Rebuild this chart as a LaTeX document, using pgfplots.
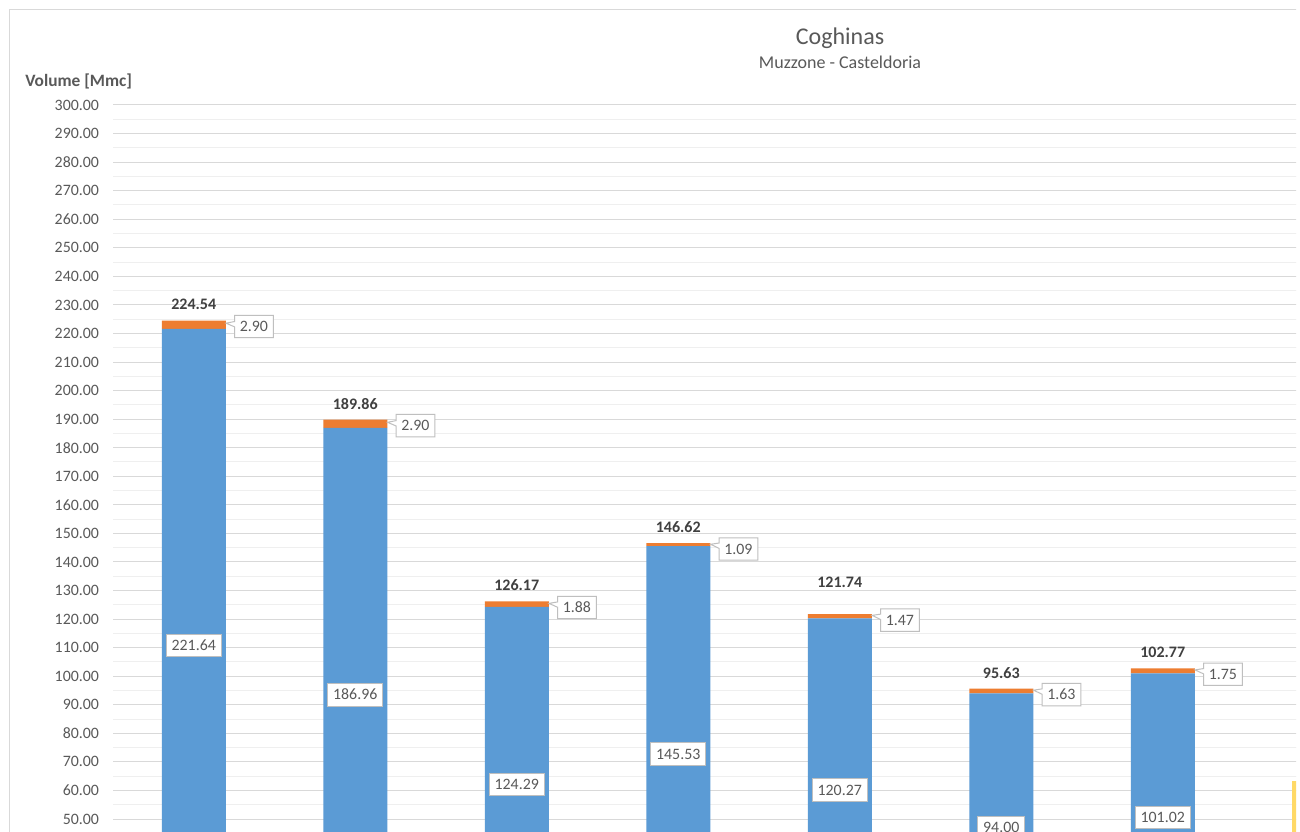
\documentclass[border=0pt]{standalone}
\usepackage{fontspec}
\setmainfont{Carlito}
\usepackage{pgfplots}
\pgfplotsset{compat=1.18}
\usetikzlibrary{shapes.callouts}

\definecolor{barblue}{HTML}{5B9BD5}
\definecolor{barorange}{HTML}{ED7D31}
\definecolor{baryellow}{HTML}{FFD966}
\definecolor{txtgray}{HTML}{595959}
\definecolor{txtdark}{HTML}{404040}
\definecolor{gridmajor}{HTML}{D9D9D9}
\definecolor{gridminor}{HTML}{EFEFEF}
\definecolor{boxline}{HTML}{BFBFBF}

\tikzset{
  vlabel/.style={draw=boxline, fill=white, text=txtgray, line width=0.75pt,
    font=\fontsize{11.9}{13}\selectfont, inner xsep=4pt, inner ysep=4.6pt,
    text height=7.6pt, text depth=0pt},
  olabel/.style={vlabel, rectangle callout, callout pointer width=4pt,
    anchor=west, xshift=6pt, yshift=-4.5pt},
  tlabel/.style={font=\bfseries\fontsize{12}{13}\selectfont, text=txtdark},
}
% common geometry of the bar axis and of the label overlay
\pgfplotsset{
  volframe/.style={
    at={(84.75pt,-97.35pt)}, anchor=south west,
    x=121.125pt, y=2.142pt,
    xmin=-0.5, xmax=7.5, ymin=0, ymax=300,
    clip=false,
  },
}

\begin{document}
\begin{tikzpicture}
\fill[white] (0,0) rectangle (975pt,624pt);
\begin{scope}
\clip (0,0) rectangle (972pt,624pt);

% chart area border
\draw[gridmajor, line width=0.75pt] (7.1pt,-100pt) -- (7.1pt,616.9pt) -- (1200pt,616.9pt);

% titles
\node[text=txtgray, font=\fontsize{18}{20}\selectfont] at (630pt,595.5pt) {Coghinas};
\node[text=txtgray, font=\fontsize{13.5}{15}\selectfont] at (630pt,577.5pt) {Muzzone - Casteldoria};
\node[anchor=west, inner sep=0pt, text=txtgray, font=\bfseries\fontsize{13}{15}\selectfont] at (18.75pt,563.25pt) {Volume [Mmc]};

\begin{axis}[
  volframe,
  ybar stacked, bar width=48pt,
  axis line style={draw=none},
  xtick=\empty,
  ytick={50,60,...,300},
  minor y tick num=1,
  major tick length=0pt, minor tick length=0pt,
  ymajorgrids, yminorgrids,
  major grid style={gridmajor, line width=0.75pt},
  minor grid style={gridminor, line width=0.75pt},
  yticklabel style={font=\fontsize{11.9}{13}\selectfont, text=txtgray, xshift=-7pt},
  /pgf/number format/.cd, fixed, fixed zerofill, precision=2, assume math mode=true,
]
% storage volume
\addplot[fill=barblue, draw=none] coordinates {
  (0,221.64) (1,186.96) (2,124.29) (3,145.53) (4,120.27) (5,94.00) (6,101.02) (7,0)};
% additional volume
\addplot[fill=barorange, draw=none] coordinates {
  (0,2.90) (1,2.90) (2,1.88) (3,1.09) (4,1.47) (5,1.63) (6,1.75) (7,0)};
% current value
\addplot[fill=baryellow, draw=none] coordinates {
  (0,0) (1,0) (2,0) (3,0) (4,0) (5,0) (6,0) (7,63.3)};
\end{axis}

% data labels, drawn over the bars
\begin{axis}[volframe, hide axis]
% values inside the bars
\node[vlabel] at (axis cs:0,110.82) {221.64};
\node[vlabel] at (axis cs:1,93.48) {186.96};
\node[vlabel] at (axis cs:2,62.145) {124.29};
\node[vlabel] at (axis cs:3,72.765) {145.53};
\node[vlabel] at (axis cs:4,60.135) {120.27};
\node[vlabel] at (axis cs:5,47.00) {94.00};
\node[vlabel] at (axis cs:6,50.51) {101.02};

% additional volume callouts
\node[olabel, callout absolute pointer={(axis cs:0.2,223.6)}] at (axis cs:0.2,224.54) {2.90};
\node[olabel, callout absolute pointer={(axis cs:1.2,188.9)}] at (axis cs:1.2,189.86) {2.90};
\node[olabel, callout absolute pointer={(axis cs:2.2,125.5)}] at (axis cs:2.2,126.17) {1.88};
\node[olabel, callout absolute pointer={(axis cs:3.2,146.2)}] at (axis cs:3.2,146.62) {1.09};
\node[olabel, callout absolute pointer={(axis cs:4.2,121.3)}] at (axis cs:4.2,121.74) {1.47};
\node[olabel, callout absolute pointer={(axis cs:5.2,95.1)}] at (axis cs:5.2,95.63) {1.63};
\node[olabel, callout absolute pointer={(axis cs:6.2,102.2)}] at (axis cs:6.2,102.77) {1.75};

% totals
\node[tlabel, yshift=12pt] at (axis cs:0,224.54) {224.54};
\node[tlabel, yshift=12pt] at (axis cs:1,189.86) {189.86};
\node[tlabel, yshift=12pt] at (axis cs:2,126.17) {126.17};
\node[tlabel, yshift=12pt] at (axis cs:3,146.62) {146.62};
\node[tlabel, yshift=24pt] at (axis cs:4,121.74) {121.74};
\node[tlabel, yshift=12pt] at (axis cs:5,95.63) {95.63};
\node[tlabel, yshift=12pt] at (axis cs:6,102.77) {102.77};
\end{axis}
\end{scope}

\pgfresetboundingbox
\path[use as bounding box] (0,0) rectangle (975pt,624pt);
\end{tikzpicture}
\end{document}
